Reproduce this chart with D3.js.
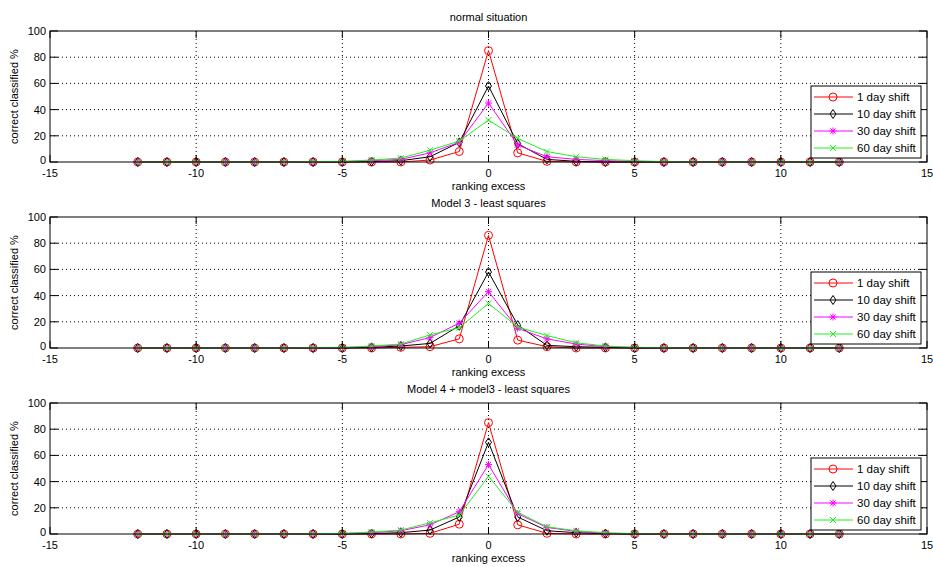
<!DOCTYPE html>
<html>
<head>
<meta charset="utf-8">
<script src="https://cdn.jsdelivr.net/npm/d3@7"></script>
<style>
  body { margin: 0; background: #fff; }
  text { font-family: "Liberation Sans", Arial, sans-serif; font-size: 11px; fill: #000; }
</style>
</head>
<body>
<div class="vis"></div>
<script>
// ranking excess positions
const ranks = [-12, -11, -10, -9, -8, -7, -6, -5, -4, -3, -2, -1, 0, 1, 2, 3, 4, 5, 6, 7, 8, 9, 10, 11, 12];

const seriesNames = ['1 day shift', '10 day shift', '30 day shift', '60 day shift'];
const panelTitles = ['normal situation', 'Model 3 - least squares', 'Model 4 + model3 - least squares'];

const xTicks = [-15, -10, -5, 0, 5, 10, 15];
const yTicks = [0, 20, 40, 60, 80, 100];

// correct classified % per panel, per series
const normal1 = [0, 0, 0, 0, 0, 0, 0, 0, 0, 0, 1.5, 8, 85, 7, 0.5, 0, 0, 0, 0, 0, 0, 0, 0, 0, 0];
const normal10 = [0, 0, 0, 0, 0, 0, 0, 0, 0.3, 1, 4, 15, 58, 14, 2, 0.5, 0, 0, 0, 0, 0, 0, 0, 0, 0];
const normal30 = [0, 0, 0, 0, 0, 0, 0, 0.3, 1, 2, 7, 15, 45, 13, 4, 2, 1, 0.5, 0, 0, 0, 0, 0, 0, 0];
const normal60 = [0, 0, 0, 0, 0, 0, 0.3, 0.5, 1.5, 3, 9, 16, 32, 18, 8, 4, 2, 1, 0.3, 0, 0, 0, 0, 0, 0];

const model3_1 = [0, 0, 0, 0, 0, 0, 0, 0, 0, 0.5, 1, 7, 86, 6, 1, 0, 0, 0, 0, 0, 0, 0, 0, 0, 0];
const model3_10 = [0, 0, 0, 0, 0, 0, 0, 0, 0.5, 1.5, 3.5, 17, 58, 17.5, 2, 1, 0.5, 0, 0, 0, 0, 0, 0, 0, 0];
const model3_30 = [0, 0, 0, 0, 0, 0, 0, 0.3, 1, 2.5, 8, 19, 43, 15, 7, 3, 1, 0.5, 0, 0, 0, 0, 0, 0, 0];
const model3_60 = [0, 0, 0, 0, 0, 0, 0.3, 0.5, 1.5, 3, 10, 15.5, 34, 16, 9.5, 4, 1.5, 0.5, 0.2, 0, 0, 0, 0, 0, 0];

const model4_1 = [0, 0, 0, 0, 0, 0, 0, 0, 0, 0, 0.5, 7.5, 85, 7, 0.5, 0, 0, 0, 0, 0, 0, 0, 0, 0, 0];
const model4_10 = [0, 0, 0, 0, 0, 0, 0, 0, 0.3, 1, 3, 13, 70, 13, 2.5, 1, 0.3, 0, 0, 0, 0, 0, 0, 0, 0];
const model4_30 = [0, 0, 0, 0, 0, 0, 0, 0.3, 1, 2.5, 7, 17, 53, 15.5, 5, 2, 0.5, 0.2, 0, 0, 0, 0, 0, 0, 0];
const model4_60 = [0, 0, 0, 0, 0, 0, 0.2, 0.5, 1.5, 3, 8.5, 14.5, 44, 16.5, 5.5, 2.5, 1, 0.3, 0, 0, 0, 0, 0, 0, 0];

const panels = [
    [normal1, normal10, normal30, normal60],
    [model3_1, model3_10, model3_30, model3_60],
    [model4_1, model4_10, model4_30, model4_60]
];

const colors = ['#ff0000', '#000000', '#ff00ff', '#22ee22'];
const markers = ['circle', 'diamond', 'star', 'cross'];

const W = 933, H = 567;
const svg = d3.select('.vis').append('svg')
    .attr('width', W)
    .attr('height', H);

const left = 50, right = 927;
const plotH = 131;

function drawMarker(g, type, color, cx, cy) {
    if (type === 'circle') {
        g.append('circle').attr('cx', cx).attr('cy', cy).attr('r', 4)
            .attr('fill', 'none').attr('stroke', color).attr('stroke-width', 1);
    } else if (type === 'diamond') {
        g.append('path')
            .attr('d', `M${cx},${cy - 4.5}L${cx + 3},${cy}L${cx},${cy + 4.5}L${cx - 3},${cy}Z`)
            .attr('fill', 'none').attr('stroke', color).attr('stroke-width', 1);
    } else if (type === 'star') {
        const s = 3.5;
        g.append('path')
            .attr('d', `M${cx - s},${cy}H${cx + s}M${cx},${cy - s}V${cy + s}M${cx - s * 0.75},${cy - s * 0.75}L${cx + s * 0.75},${cy + s * 0.75}M${cx - s * 0.75},${cy + s * 0.75}L${cx + s * 0.75},${cy - s * 0.75}`)
            .attr('stroke', color).attr('stroke-width', 1);
    } else {
        const s = 3;
        g.append('path')
            .attr('d', `M${cx - s},${cy - s}L${cx + s},${cy + s}M${cx - s},${cy + s}L${cx + s},${cy - s}`)
            .attr('stroke', color).attr('stroke-width', 1);
    }
}

panels.forEach((series, p) => {
    const top = 31 + p * 186;
    const x = d3.scaleLinear().domain([-15, 15]).range([left, right]);
    const y = d3.scaleLinear().domain([0, 100]).range([top + plotH, top]);

    const g = svg.append('g');

    // dotted grid
    g.selectAll('.gx').data(xTicks.slice(1, -1)).enter().append('line')
        .attr('x1', d => x(d)).attr('x2', d => x(d))
        .attr('y1', top).attr('y2', top + plotH)
        .attr('stroke', '#000').attr('stroke-width', 1)
        .attr('stroke-dasharray', '1,3');
    g.selectAll('.gy').data(yTicks.slice(1, -1)).enter().append('line')
        .attr('y1', d => y(d)).attr('y2', d => y(d))
        .attr('x1', left).attr('x2', right)
        .attr('stroke', '#000').attr('stroke-width', 1)
        .attr('stroke-dasharray', '1,3');

    // lines and markers
    const line = d3.line().x((d, i) => x(ranks[i])).y(d => y(d));
    series.forEach((vals, s) => {
        g.append('path')
            .datum(vals)
            .attr('d', line)
            .attr('fill', 'none')
            .attr('stroke', colors[s])
            .attr('stroke-width', 1);
        vals.forEach((v, i) => drawMarker(g, markers[s], colors[s], x(ranks[i]), y(v)));
    });

    // axis box
    g.append('rect')
        .attr('x', left).attr('y', top)
        .attr('width', right - left).attr('height', plotH)
        .attr('fill', 'none').attr('stroke', '#000').attr('stroke-width', 1);

    // inward ticks on all sides
    xTicks.forEach(t => {
        g.append('line').attr('x1', x(t)).attr('x2', x(t))
            .attr('y1', top + plotH).attr('y2', top + plotH - 7).attr('stroke', '#000');
        g.append('line').attr('x1', x(t)).attr('x2', x(t))
            .attr('y1', top).attr('y2', top + 7).attr('stroke', '#000');
        g.append('text')
            .attr('x', x(t)).attr('y', top + plotH + 15)
            .attr('text-anchor', 'middle')
            .text(t);
    });
    yTicks.forEach(t => {
        g.append('line').attr('x1', left).attr('x2', left + 8)
            .attr('y1', y(t)).attr('y2', y(t)).attr('stroke', '#000');
        g.append('line').attr('x1', right).attr('x2', right - 8)
            .attr('y1', y(t)).attr('y2', y(t)).attr('stroke', '#000');
        g.append('text')
            .attr('x', left - 4).attr('y', y(t) + (t === 0 ? 2 : 4))
            .attr('text-anchor', 'end')
            .text(t);
    });

    // titles and labels
    g.append('text')
        .attr('x', (left + right) / 2).attr('y', top - 10)
        .attr('text-anchor', 'middle')
        .text(panelTitles[p]);
    g.append('text')
        .attr('x', (left + right) / 2).attr('y', top + plotH + 28)
        .attr('text-anchor', 'middle')
        .text('ranking excess');
    g.append('text')
        .attr('transform', `translate(18,${top + plotH / 2}) rotate(-90)`)
        .attr('text-anchor', 'middle')
        .text('correct classified %');

    // legend
    const lx = 811, ly = top + 55;
    const leg = g.append('g');
    leg.append('rect')
        .attr('x', lx).attr('y', ly)
        .attr('width', 110).attr('height', 72)
        .attr('fill', '#fff').attr('stroke', '#000').attr('stroke-width', 1);
    seriesNames.forEach((name, s) => {
        const yy = ly + 11 + s * 17;
        leg.append('line')
            .attr('x1', lx + 3).attr('x2', lx + 42)
            .attr('y1', yy).attr('y2', yy)
            .attr('stroke', colors[s]);
        drawMarker(leg, markers[s], colors[s], lx + 22, yy);
        leg.append('text')
            .attr('x', lx + 46).attr('y', yy + 4)
            .style('font-size', '11.5px')
            .text(name);
    });
});
</script>
</body>
</html>
